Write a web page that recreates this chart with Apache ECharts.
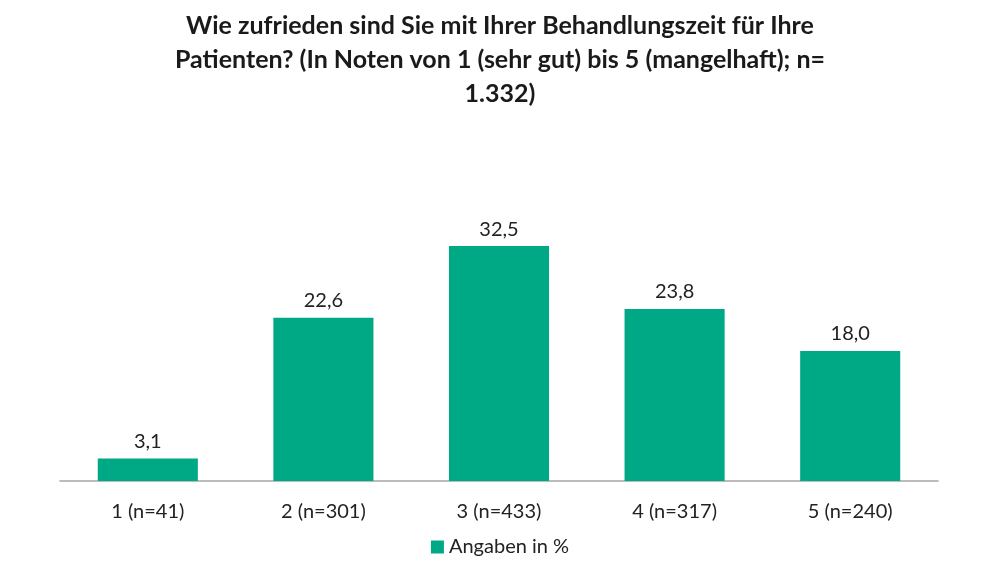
<!DOCTYPE html>
<html>
<head>
<meta charset="utf-8">
<script src="https://cdn.jsdelivr.net/npm/echarts@6/dist/echarts.min.js"></script>
<style>
  html, body { margin: 0; padding: 0; background: #fff; }
  #main { width: 1000px; height: 562px; }
</style>
</head>
<body>
<div id="main"></div>
<script>
  // Daten aus der Grafik
  var categories = ['1 (n=41)', '2 (n=301)', '3 (n=433)', '4 (n=317)', '5 (n=240)'];
  var values = [3.1, 22.6, 32.5, 23.8, 18.0];
  var seriesName = 'Angaben in %';

  var chart = echarts.init(document.getElementById('main'));

  var option = {
    backgroundColor: '#fff',
    textStyle: { fontFamily: 'Lato' },
    title: {
      text: 'Wie zufrieden sind Sie mit Ihrer Behandlungszeit für Ihre\nPatienten? (In Noten von 1 (sehr gut) bis 5 (mangelhaft); n=\n1.332)',
      left: 'center',
      top: 4,
      textStyle: {
        fontFamily: 'Lato',
        fontWeight: 'bold',
        fontSize: 25,
        lineHeight: 34,
        color: '#1a1a1a',
        align: 'center'
      }
    },
    legend: {
      data: [seriesName],
      bottom: 0,
      left: 'center',
      itemWidth: 13,
      itemHeight: 13,
      itemGap: 6,
      icon: 'rect',
      textStyle: { fontSize: 20, color: '#222', fontFamily: 'Lato' }
    },
    grid: { left: 60, right: 62, top: 228, bottom: 81 },
    xAxis: {
      type: 'category',
      data: categories,
      axisTick: { show: false },
      axisLine: { lineStyle: { color: '#a6a6a6', width: 1.5 } },
      axisLabel: { fontSize: 20, color: '#222', margin: 21, fontFamily: 'Lato' }
    },
    yAxis: {
      type: 'value',
      min: 0,
      max: 35,
      show: false,
      splitLine: { show: false }
    },
    series: [{
      name: seriesName,
      type: 'bar',
      data: values,
      barCategoryGap: '43%',
      itemStyle: { color: '#00a986' },
      label: {
        show: true,
        position: 'top',
        distance: 7,
        fontSize: 20,
        color: '#222',
        fontFamily: 'Lato',
        formatter: function (p) { return p.value.toFixed(1).replace('.', ','); }
      }
    }]
  };

  chart.setOption(option);
</script>
</body>
</html>
